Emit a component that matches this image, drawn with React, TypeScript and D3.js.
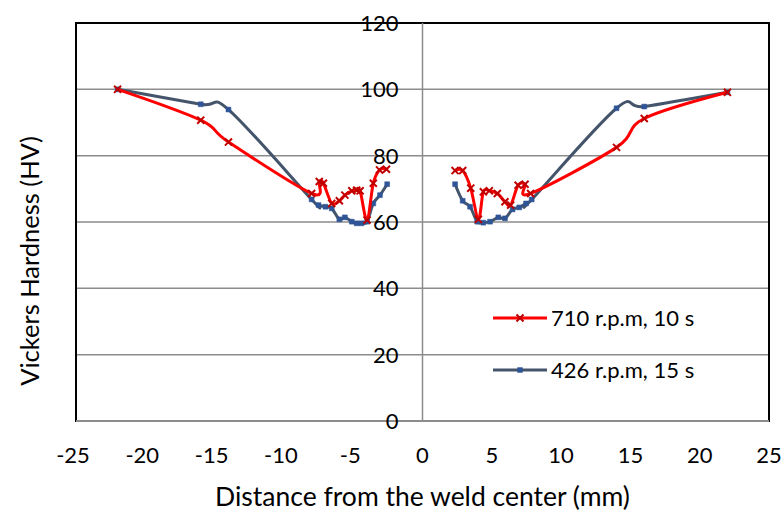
import React, { useEffect, useRef } from 'react';
import * as d3 from 'd3';

// distance from weld center (mm) and hardness (HV)
const red710LeftX = [-22, -16, -14, -8, -7.45, -7.15, -6.55, -6, -5.6, -5.1, -4.75, -4.5, -4, -3.55, -3.1, -2.6];
const red710LeftY = [100, 90.7, 84.1, 68.6, 72.2, 71.7, 65.6, 66.4, 68.1, 69.4, 69.6, 69.4, 60.6, 71.7, 75.7, 75.9];
const red710RightX = [2.35, 2.9, 3.48, 4.03, 4.39, 4.82, 5.4, 5.95, 6.36, 6.9, 7.4, 7.8, 14, 16, 22];
const red710RightY = [75.5, 75.5, 70.2, 60.8, 69.1, 69.4, 68.6, 66.1, 65.1, 71.1, 71.4, 68.6, 82.5, 91.2, 99.1];

const blue426LeftX = [-22, -16, -14, -8, -7.5, -7, -6.55, -6, -5.6, -5.1, -4.75, -4.4, -4, -3.55, -3.07, -2.55];
const blue426LeftY = [100, 95.5, 93.9, 66.8, 65.1, 64.6, 64.1, 60.8, 61.4, 60.1, 59.6, 59.6, 60.1, 65.6, 68.1, 71.4];
const blue426RightX = [2.35, 2.9, 3.43, 3.95, 4.39, 4.87, 5.47, 5.95, 6.5, 6.98, 7.47, 7.88, 14, 16, 22];
const blue426RightY = [71.4, 66.4, 64.6, 60.1, 59.8, 60.1, 61.4, 61.1, 63.8, 64.4, 65.6, 66.8, 94.3, 94.8, 99.1];

const xTicks = [-25, -20, -15, -10, -5, 0, 5, 10, 15, 20, 25];
const yTicks = [0, 20, 40, 60, 80, 100, 120];
const seriesNames = ['710 r.p.m, 10 s', '426 r.p.m, 15 s'];

export default function App() {
  const svgRef = useRef<SVGSVGElement>(null);

  useEffect(() => {
    const width = 782;
    const height = 512;
    const plot = { left: 76, right: 769, top: 23, bottom: 421 };
    const font = 'Lato, "Open Sans", sans-serif';

    const svg = d3.select(svgRef.current);
    svg.selectAll('*').remove();
    svg.attr('width', width).attr('height', height);

    const x = d3.scaleLinear().domain([-25, 25]).range([plot.left, plot.right]);
    const y = d3.scaleLinear().domain([0, 120]).range([plot.bottom, plot.top]);

    // horizontal gridlines
    svg.selectAll('line.grid')
      .data(yTicks.filter(v => v > 0 && v < 120))
      .enter()
      .append('line')
      .attr('x1', plot.left)
      .attr('x2', plot.right)
      .attr('y1', d => y(d))
      .attr('y2', d => y(d))
      .attr('stroke', '#8c8c8c')
      .attr('stroke-width', 1.5);

    // frame
    svg.append('rect')
      .attr('x', plot.left)
      .attr('y', plot.top)
      .attr('width', plot.right - plot.left)
      .attr('height', plot.bottom - plot.top)
      .attr('fill', 'none')
      .attr('stroke', '#000')
      .attr('stroke-width', 2);

    // axes crossing at zero
    svg.append('line')
      .attr('x1', x(0)).attr('x2', x(0))
      .attr('y1', plot.top).attr('y2', plot.bottom)
      .attr('stroke', '#8c8c8c').attr('stroke-width', 1.5);
    svg.append('line')
      .attr('x1', plot.left).attr('x2', plot.right)
      .attr('y1', y(0)).attr('y2', y(0))
      .attr('stroke', '#8c8c8c').attr('stroke-width', 2);

    // y tick labels, next to the zero axis
    svg.selectAll('text.ytick')
      .data(yTicks)
      .enter()
      .append('text')
      .attr('x', x(0) - 24)
      .attr('y', d => y(d))
      .attr('dy', '0.36em')
      .attr('text-anchor', 'end')
      .attr('font-family', font)
      .attr('font-size', 22)
      .attr('fill', '#000')
      .text(d => d);

    // x tick labels
    svg.selectAll('text.xtick')
      .data(xTicks)
      .enter()
      .append('text')
      .attr('x', d => x(d) - (d < 0 ? 3 : 0))
      .attr('y', 463)
      .attr('text-anchor', 'middle')
      .attr('font-family', font)
      .attr('font-size', 22)
      .attr('fill', '#000')
      .text(d => d);

    // axis titles
    svg.append('text')
      .attr('x', x(0))
      .attr('y', 506)
      .attr('text-anchor', 'middle')
      .attr('font-family', font)
      .attr('font-size', 26.5)
      .text('Distance from the weld center (mm)');

    svg.append('text')
      .attr('transform', 'translate(39,261) rotate(-90)')
      .attr('text-anchor', 'middle')
      .attr('font-family', font)
      .attr('font-size', 25.5)
      .text('Vickers Hardness (HV)');

    const line = d3.line<[number, number]>()
      .x(d => x(d[0]))
      .y(d => y(d[1]))
      .curve(d3.curveCardinal.tension(0));

    const zip = (xs: number[], ys: number[]) => xs.map((v, i) => [v, ys[i]] as [number, number]);

    const series = [
      { parts: [zip(blue426LeftX, blue426LeftY), zip(blue426RightX, blue426RightY)], color: '#44546a', marker: '#2f5597', shape: d3.symbolSquare },
      { parts: [zip(red710LeftX, red710LeftY), zip(red710RightX, red710RightY)], color: '#ff0000', marker: '#c00000', shape: d3.symbolX },
    ];

    series.forEach(s => {
      s.parts.forEach(pts => {
        svg.append('path')
          .datum(pts)
          .attr('d', line)
          .attr('fill', 'none')
          .attr('stroke', s.color)
          .attr('stroke-width', 3)
          .attr('stroke-linejoin', 'round');

        svg.selectAll(null)
          .data(pts)
          .enter()
          .append('path')
          .attr('transform', d => `translate(${x(d[0])},${y(d[1])})`)
          .attr('d', d3.symbol().type(s.shape).size(s.shape === d3.symbolSquare ? 24 : 34)())
          .attr('fill', s.marker)
          .attr('stroke', s.marker)
          .attr('stroke-width', s.shape === d3.symbolSquare ? 0.5 : 2);
      });
    });

    // legend
    const legend = [
      { name: seriesNames[0], color: '#ff0000', marker: '#c00000', shape: d3.symbolX, y: 318 },
      { name: seriesNames[1], color: '#44546a', marker: '#2f5597', shape: d3.symbolSquare, y: 370 },
    ];
    legend.forEach(l => {
      svg.append('line')
        .attr('x1', 493).attr('x2', 547)
        .attr('y1', l.y).attr('y2', l.y)
        .attr('stroke', l.color).attr('stroke-width', 3);
      svg.append('path')
        .attr('transform', `translate(520,${l.y})`)
        .attr('d', d3.symbol().type(l.shape).size(l.shape === d3.symbolSquare ? 24 : 34)())
        .attr('fill', l.marker)
        .attr('stroke', l.marker)
        .attr('stroke-width', l.shape === d3.symbolSquare ? 0.5 : 2);
      svg.append('text')
        .attr('x', 551)
        .attr('y', l.y)
        .attr('dy', '0.36em')
        .attr('font-family', font)
        .attr('font-size', 22)
        .text(l.name);
    });
  }, []);

  return (
    <svg ref={svgRef} style={{ position: 'absolute', left: 0, top: 0, background: '#fff' }} />
  );
}
